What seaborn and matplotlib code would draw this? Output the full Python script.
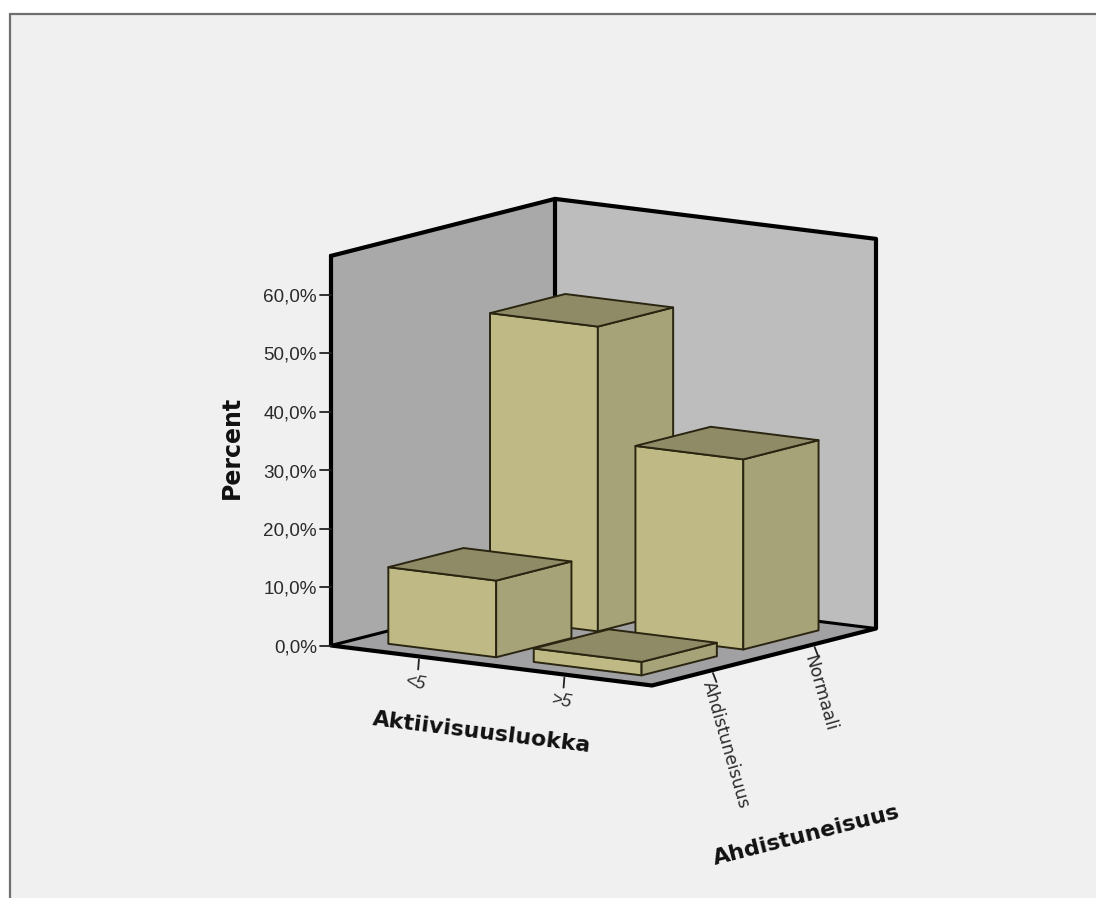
import numpy as np
import pandas as pd
import seaborn as sns
import matplotlib
matplotlib.use("Agg")
import matplotlib.pyplot as plt
from matplotlib.patches import Polygon, Rectangle

# Cell percentages of the two-way table
activity_levels = ["<5", ">5"]
anxiety_levels = ["Ahdistuneisuus", "Normaali"]
percent_anxious = [13.1, 2.3]
percent_normal = [52.1, 32.5]
percent_ticks = [0, 10, 20, 30, 40, 50, 60]
percent_top = 66.6

table = pd.DataFrame({
    "activity": [0, 1, 0, 1],
    "anxiety": [0, 0, 1, 1],
    "percent": percent_anxious + percent_normal,
})

# Oblique projection of the 3D chart box onto the canvas (units: pixels)
ORIGIN = np.array([331.0, 645.5])
X_VEC = np.array([321.0, 40.0])
Y_VEC = np.array([224.0, -57.0])
Z_VEC = np.array([0.0, -5.85])
CATEGORY_CENTERS = [0.274, 0.727]
DEPTH_CENTERS = [0.272, 0.726]
BAR_SIZE = 0.336


def project(a, b, z=0.0):
    return tuple(ORIGIN + a * X_VEC + b * Y_VEC + z * Z_VEC)


PANEL = "#f0f0f0"
LEFT_WALL = "#a9a9aa"
BACK_WALL = "#bdbdbe"
FLOOR = "#a1a1a3"
BAR_FRONT = "#bfba85"
BAR_SIDE = "#a6a379"
BAR_TOP = "#8f8b67"
EDGE = "#2a2510"

sns.set_theme(style="white")
plt.rcParams["font.family"] = ["Liberation Sans", "DejaVu Sans"]

fig = plt.figure(figsize=(10.96, 8.98), dpi=100, facecolor="white")
ax = fig.add_axes([0, 0, 1, 1])
ax.set_xlim(0, 1096)
ax.set_ylim(898, 0)
ax.set_axis_off()
sns.despine(ax=ax, left=True, bottom=True)

# Viewer panel behind the chart
ax.add_patch(Rectangle((10, 14), 1090, 890, facecolor=PANEL, edgecolor="#6f6f6f", lw=1.6, zorder=0))

# Walls and floor of the box
ax.add_patch(Polygon([project(0, 0), project(0, 1), project(0, 1, percent_top), project(0, 0, percent_top)],
                     facecolor=LEFT_WALL, edgecolor="none", zorder=1))
ax.add_patch(Polygon([project(0, 1), project(1, 1), project(1, 1, percent_top), project(0, 1, percent_top)],
                     facecolor=BACK_WALL, edgecolor="none", zorder=1))
ax.add_patch(Polygon([project(0, 0), project(1, 0), project(1, 1), project(0, 1)],
                     facecolor=FLOOR, edgecolor="none", zorder=1))


def box_line(points, lw=3.0):
    xs, ys = zip(*points)
    ax.plot(xs, ys, color="black", lw=lw, solid_capstyle="round", solid_joinstyle="round", zorder=2)


box_line([project(0, 0, percent_top), project(0, 0), project(1, 0), project(1, 1), project(1, 1, percent_top),
          project(0, 1, percent_top), project(0, 0, percent_top)])
box_line([project(0, 1, percent_top), project(0, 1)])
box_line([project(0, 0), project(0, 1), project(1, 1)], lw=2.2)

# Bars, painted from the back of the floor to the front
for row in table.sort_values(["anxiety", "activity"], ascending=[False, True]).itertuples():
    a0 = CATEGORY_CENTERS[row.activity] - BAR_SIZE / 2
    a1 = a0 + BAR_SIZE
    b0 = DEPTH_CENTERS[row.anxiety] - BAR_SIZE / 2
    b1 = b0 + BAR_SIZE
    h = row.percent
    faces = [
        ([project(a0, b0), project(a1, b0), project(a1, b0, h), project(a0, b0, h)], BAR_FRONT),
        ([project(a1, b0), project(a1, b1), project(a1, b1, h), project(a1, b0, h)], BAR_SIDE),
        ([project(a0, b0, h), project(a1, b0, h), project(a1, b1, h), project(a0, b1, h)], BAR_TOP),
    ]
    for corners, shade in faces:
        ax.add_patch(Polygon(corners, facecolor=shade, edgecolor=EDGE, lw=1.4, joinstyle="round", zorder=3))

# Percent axis
for tick in percent_ticks:
    x, y = project(0, 0, tick)
    ax.plot([x - 11, x], [y, y], color="#222222", lw=1.3, zorder=2)
    ax.text(x - 14, y + 2.5, f"{tick},0%", ha="right", va="center", fontsize=13.6, color="#2b2b2b")

# Activity axis
for pos, label in zip(CATEGORY_CENTERS, activity_levels):
    x, y = project(pos, 0)
    ax.plot([x, x - 0.8], [y + 3, y + 13], color="#222222", lw=1.3, zorder=2)
    ax.text(x - 3, y + 27, label, ha="center", va="center", rotation=-10, style="italic",
            fontsize=13, color="#2b2b2b")

# Anxiety axis
for pos, label in zip(DEPTH_CENTERS, anxiety_levels):
    x, y = project(1, pos)
    ax.plot([x, x + 3.5], [y + 3, y + 12], color="#222222", lw=1.3, zorder=2)
    ax.text(x + 3, y + 9, label, ha="left", va="top", rotation=-74, rotation_mode="anchor",
            family="DejaVu Sans", fontsize=12.4, color="#2b2b2b")

# Axis titles
title_font = dict(family="DejaVu Sans", weight="bold", color="#111111")
ax.text(482, 733, "Aktiivisuusluokka", ha="center", va="center", rotation=-7.1, rotation_mode="anchor",
        fontsize=15.8, **title_font)
ax.text(806, 835, "Ahdistuneisuus", ha="center", va="center", rotation=14.3, rotation_mode="anchor",
        fontsize=15.9, **title_font)
ax.text(232, 447, "Percent", ha="center", va="center", rotation=90, rotation_mode="anchor",
        fontsize=17, **title_font)

fig.savefig("out.png", dpi=100, facecolor=fig.get_facecolor())
